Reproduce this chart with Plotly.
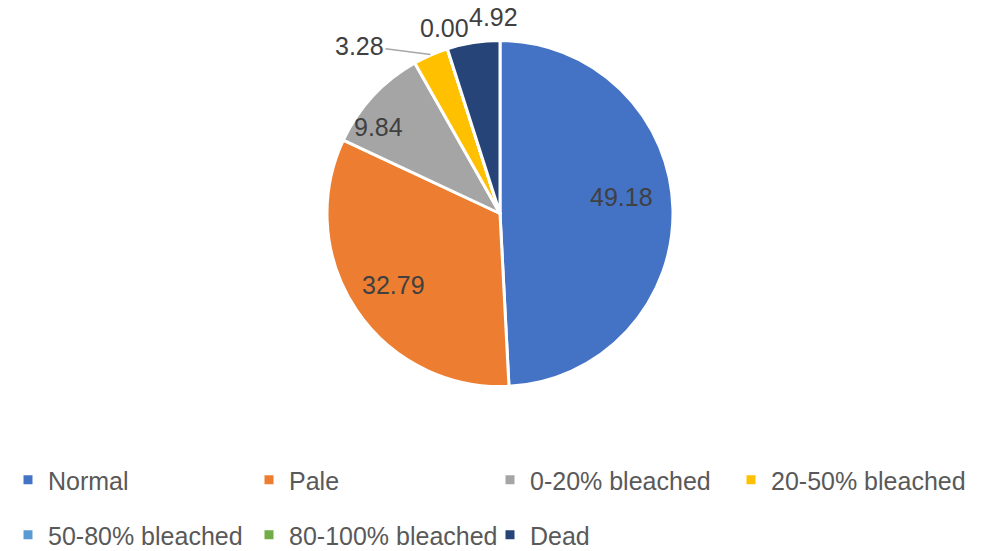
import math
import plotly.graph_objects as go

categories = ["Normal", "Pale", "0-20% bleached", "20-50% bleached",
              "50-80% bleached", "80-100% bleached", "Dead"]
values = [49.18, 32.79, 9.84, 3.28, 0.00, 0.00, 4.92]
colors = ["#4472C4", "#ED7D31", "#A5A5A5", "#FFC000", "#5B9BD5", "#70AD47", "#264478"]

W, H = 1000, 551
FONT = "Liberation Sans"
TXT = "#404040"

# pie box (paper coords)
dom_x = [0.327, 0.673]
dom_y = [1 - 387 / H, 1 - 40 / H]

fig = go.Figure()
fig.add_trace(go.Pie(
    labels=categories,
    values=values,
    marker=dict(colors=colors, line=dict(color="white", width=3)),
    sort=False,
    direction="clockwise",
    rotation=0,
    textinfo="none",
    domain=dict(x=dom_x, y=dom_y),
    showlegend=False,
    hoverinfo="label+value",
))

# data labels placed like Excel's "best fit":
# (radius fraction, extra x px, extra y px up, leader line)
label_style = {
    0: (0.70, 0, 13, False),
    1: (0.74, 0, 0, False),
    2: (0.80, -20, -8, False),
    3: (1.0, -71, 9, True),
    4: (1.0, -3, 20, False),
    6: (1.0, 20, 25, False),
}
cx = (dom_x[0] + dom_x[1]) / 2
cy = (dom_y[0] + dom_y[1]) / 2
r_px = (dom_y[1] - dom_y[0]) * H / 2
total = sum(values)
cum = 0
for i, v in enumerate(values):
    if i in label_style:
        f, dx, dy, lead = label_style[i]
        ang = 2 * math.pi * (cum + v / 2) / total
        px = cx + f * r_px * math.sin(ang) / W
        py = cy + f * r_px * math.cos(ang) / H
        fig.add_annotation(
            x=px, y=py, xref="paper", yref="paper", text=f"{v:.2f}",
            showarrow=True, arrowhead=0, arrowwidth=1.5,
            arrowcolor="#A6A6A6" if lead else "rgba(0,0,0,0)",
            ax=dx, ay=-dy, standoff=0,
            font=dict(family=FONT, size=25, color=TXT),
        )
    cum += v

# legend in two rows via dummy traces
for i, (cat, col) in enumerate(zip(categories, colors)):
    fig.add_trace(go.Scatter(
        x=[None], y=[None], mode="markers", name=cat,
        marker=dict(symbol="square", size=9, color=col),
        legend="legend" if i < 4 else "legend2",
    ))

leg = dict(orientation="h", x=0.008, xanchor="left", yanchor="middle",
           xref="container", yref="container",
           entrywidth=196, entrywidthmode="pixels",
           font=dict(family=FONT, size=25, color="#595959"),
           bgcolor="rgba(0,0,0,0)", itemclick=False)

fig.update_layout(
    width=W, height=H,
    margin=dict(l=0, r=0, t=0, b=0, autoexpand=False),
    paper_bgcolor="white", plot_bgcolor="white",
    xaxis=dict(visible=False), yaxis=dict(visible=False),
    legend=dict(leg, y=1 - 480 / H),
    legend2=dict(leg, y=1 - 535 / H),
)

fig.write_html("out.html", config={"displayModeBar": False},
               post_script="document.body.style.margin='0';")
